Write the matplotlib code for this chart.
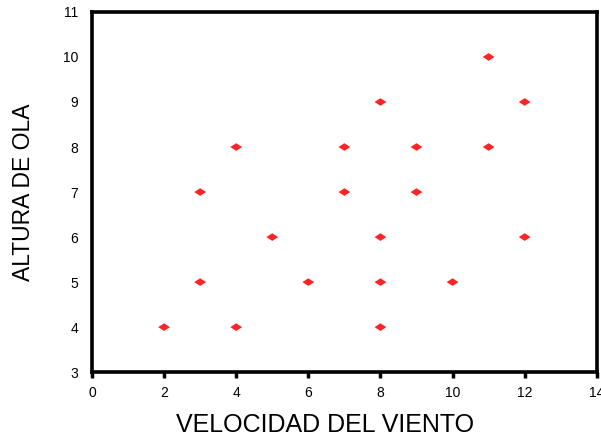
import matplotlib
matplotlib.use("Agg")
import matplotlib.pyplot as plt

wind_speed = [2, 3, 3, 4, 4, 5, 6, 7, 7, 8, 8, 8, 8, 9, 9, 10, 11, 11, 12, 12]
wave_height = [4, 5, 7, 4, 8, 6, 5, 7, 8, 4, 5, 6, 9, 7, 8, 5, 8, 10, 6, 9]

x_ticks = [0, 2, 4, 6, 8, 10, 12, 14]
y_ticks = [3, 4, 5, 6, 7, 8, 9, 10, 11]

plt.rcParams['font.family'] = ['Liberation Sans', 'DejaVu Sans']

fig = plt.figure(figsize=(6.01, 4.42), dpi=100)
ax = fig.add_axes([0.153, 0.158, 0.840, 0.815])

diamond = [(-1, 0), (0, 0.65), (1, 0), (0, -0.65), (-1, 0)]
ax.scatter(wind_speed, wave_height, marker=diamond, s=72, color='#ff2424',
           edgecolors='none', zorder=3)

ax.set_xlim(0, 14)
ax.set_ylim(3, 11)
ax.set_xticks(x_ticks)
ax.set_yticks(y_ticks)
ax.tick_params(axis='x', direction='out', length=4, width=2.5, labelsize=10, pad=6)
ax.tick_params(axis='y', length=0, labelsize=10, pad=10)

for sp in ax.spines.values():
    sp.set_linewidth(2.6)
    sp.set_color('black')

ax.set_xlabel('VELOCIDAD DEL VIENTO', fontsize=18)
ax.xaxis.set_label_coords(0.461, -0.113)
ax.set_ylabel('ALTURA DE OLA', fontsize=16.5)
ax.yaxis.set_label_coords(-0.112, 0.5)

fig.savefig('out.png', dpi=100)
